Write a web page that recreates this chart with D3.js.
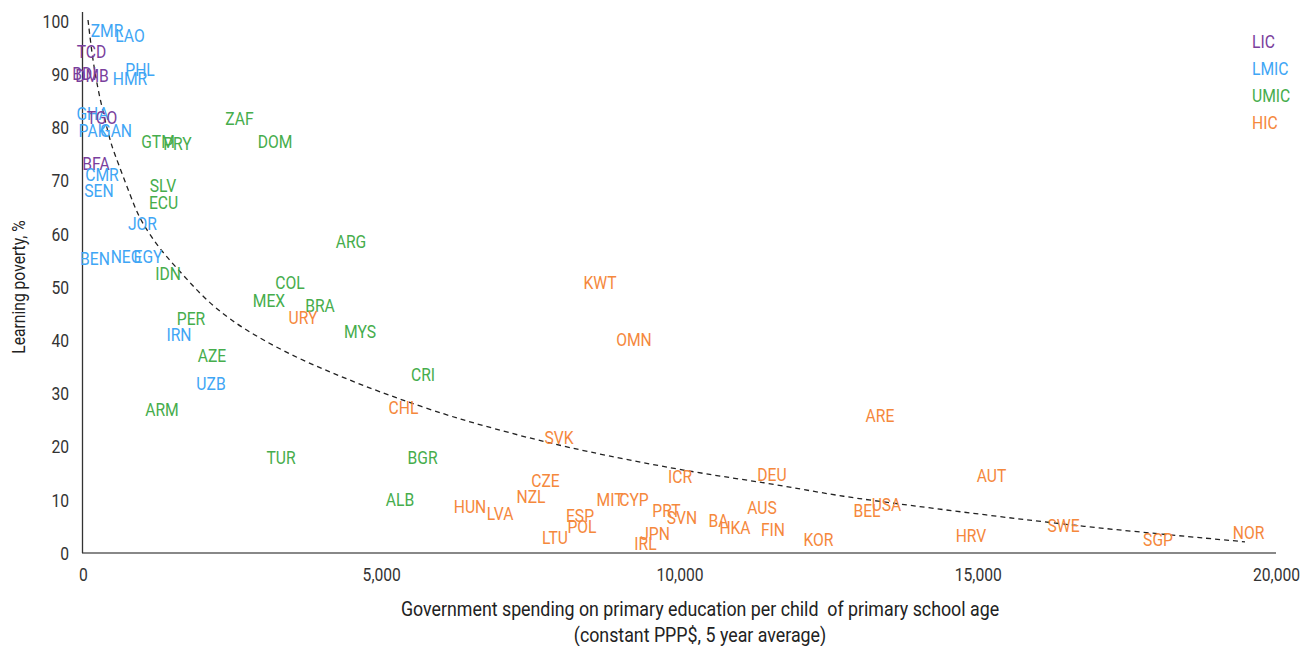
<!DOCTYPE html>
<html><head><meta charset="utf-8">
<script src="https://cdn.jsdelivr.net/npm/d3@7/dist/d3.min.js"></script>
<style>
body{margin:0;background:#fff;}
text{font-family:Roboto,"Noto Sans",sans-serif;}
</style>
</head><body>
<svg id="chart" width="1301" height="646"></svg>
<script>
// ---- data ----
const groupNames = ["LIC","LMIC","UMIC","HIC"];
const codes = ["TCD","BDI","DMB","GHA","TGO","BFA",
  "ZMR","LAO","PHL","HMR","PAK","GAN","CMR","SEN","JOR","BEN","NEG","EGY","IRN","UZB",
  "ZAF","GTM","PRY","DOM","SLV","ECU","IDN","ARG","COL","MEX","BRA","MYS","PER","AZE","ARM","CRI","TUR","BGR","ALB",
  "URY","CHL","KWT","OMN","SVK","HUN","LVA","NZL","CZE","ESP","POL","LTU","MIT","CYP","ICR","PRT","SVN","JPN","IRL","DEU","AUS","BA","HKA","FIN","KOR","BEL","USA","ARE","AUT","HRV","SWE","SGP","NOR"];
const incomeGroup = ["LIC","LIC","LIC","LMIC","LIC","LIC",
  "LMIC","LMIC","LMIC","LMIC","LMIC","LMIC","LMIC","LMIC","LMIC","LMIC","LMIC","LMIC","LMIC","LMIC",
  "UMIC","UMIC","UMIC","UMIC","UMIC","UMIC","UMIC","UMIC","UMIC","UMIC","UMIC","UMIC","UMIC","UMIC","UMIC","UMIC","UMIC","UMIC","UMIC",
  "HIC","HIC","HIC","HIC","HIC","HIC","HIC","HIC","HIC","HIC","HIC","HIC","HIC","HIC","HIC","HIC","HIC","HIC","HIC","HIC","HIC","HIC","HIC","HIC","HIC","HIC","HIC","HIC","HIC","HIC","HIC","HIC","HIC"];
const spending = [142,25,151,160,318,218,
  402,788,956,788,168,553,318,268,997,201,721,1090,1609,2146,
  2624,1257,1584,3219,1341,1350,1425,4493,3470,3118,3973,4644,1811,2163,1324,5700,3319,5692,5314,
  3688,5373,8667,9237,7980,6488,6991,7511,7754,8332,8365,7913,8835,9237,10008,9782,10042,9589,9430,11551,11383,10654,10930,11567,12330,13143,13470,13361,15231,14887,16438,18022,19539];
const poverty = [94.3,90.2,89.7,82.7,81.8,73.2,
  98.3,97.3,90.9,89.2,79.5,79.5,71.1,68.2,61.9,55.4,55.8,55.7,41.1,31.8,
  81.7,77.3,77.0,77.4,69.1,65.8,52.5,58.5,50.9,47.4,46.6,41.7,44.0,37.2,26.9,33.6,18.0,18.0,10.0,
  44.2,27.4,50.8,40.2,21.8,8.8,7.5,10.7,13.7,7.1,4.9,2.9,10.0,10.1,14.3,7.9,6.7,3.7,1.8,14.8,8.6,6.2,4.7,4.5,2.6,7.9,9.2,25.8,14.6,3.3,5.1,2.6,3.8];
// trend line
const trendX = [84,168,285,453,503,821,956,1291,1676,2012,2464,3018,3588,4141,4694,5264,6102,6656,7611,8718,10310,11467,12573,13412,15155,16832,18223,19480];
const trendY = [100.2,92.1,85.2,77.6,75.8,66.4,62.6,57.0,52.3,48.1,43.8,40.0,36.7,34.0,31.5,29.1,25.9,24.1,21.2,18.4,15.0,13.2,10.9,9.6,7.1,4.9,3.4,2.1];
const xTicks = [0,5000,10000,15000,20000];
const yTicks = [0,10,20,30,40,50,60,70,80,90,100];
const xTitle = ["Government spending on primary education per child  of primary school age","(constant PPP$, 5 year average)"];
const yTitle = "Learning poverty, %";

// ---- style ----
const colors = {LIC:"#7a3f9d", LMIC:"#3fa6f5", UMIC:"#46ad4c", HIC:"#f5883c"};
const SX = 0.87; // horizontal condensing
const svg = d3.select("#chart");
const x = d3.scaleLinear().domain([0,20000]).range([83,1276]);
const y = d3.scaleLinear().domain([0,101.7]).range([553,12]);

// axes
const yAxis = svg.append("g").attr("transform","translate(83,0)")
  .call(d3.axisLeft(y).tickValues(yTicks).tickSize(0).tickPadding(0));
yAxis.select(".domain").remove();
yAxis.selectAll("text").attr("x",-14/SX).attr("dy","0.35em")
  .attr("transform",`scale(${SX},1)`).attr("fill","#333").style("font-size","18px");

const xAxis = svg.append("g").attr("transform","translate(0,553)")
  .call(d3.axisBottom(x).tickValues(xTicks).tickSize(0).tickFormat(d3.format(",")));
xAxis.select(".domain").remove();
xAxis.selectAll(".tick").each(function(d){
  const t = d3.select(this);
  t.select("text").attr("x",0).attr("y",22).attr("dy","0.35em")
    .attr("transform",`scale(${SX},1)`).attr("fill","#333").style("font-size","18px");
});

svg.append("line").attr("x1",82).attr("x2",1276).attr("y1",553).attr("y2",553)
  .attr("stroke","#888").attr("stroke-width",2);
svg.append("line").attr("x1",82.5).attr("x2",82.5).attr("y1",12).attr("y2",553)
  .attr("stroke","#333").attr("stroke-width",1.3);

// trend
const trend = trendX.map((v,i)=>[v,trendY[i]]);
svg.append("path").datum(trend)
  .attr("d", d3.line().x(d=>x(d[0])).y(d=>y(d[1])).curve(d3.curveBasis))
  .attr("fill","none").attr("stroke","#222").attr("stroke-width",1.3).attr("stroke-dasharray","5,4");

// labels
const pts = codes.map((c,i)=>({c, g:incomeGroup[i], sx:spending[i], p:poverty[i]}));
svg.append("g").selectAll("text").data(pts).join("text")
  .attr("transform",d=>`translate(${x(d.sx)},${y(d.p)}) scale(${SX},1)`)
  .attr("text-anchor","middle").attr("dy","0.36em")
  .style("font-size","18px").attr("fill",d=>colors[d.g]).text(d=>d.c);

// legend
svg.append("g").selectAll("text").data(groupNames).join("text")
  .attr("transform",(d,i)=>`translate(1252,${42+i*27}) scale(${SX},1)`)
  .attr("dy","0.36em").style("font-size","18px").attr("fill",d=>colors[d]).text(d=>d);

// titles
svg.append("text").attr("transform",`translate(19,287) rotate(-90) scale(${SX},1)`)
  .attr("text-anchor","middle").attr("dy","0.36em").style("font-size","18px").attr("fill","#222").text(yTitle);
svg.append("g").selectAll("text").data(xTitle).join("text")
  .attr("transform",(d,i)=>`translate(700,${609+i*26}) scale(0.89,1)`)
  .attr("text-anchor","middle").attr("dy","0.36em").style("font-size","20px").style("white-space","pre")
  .attr("fill","#222").text(d=>d);
</script>
</body></html>
